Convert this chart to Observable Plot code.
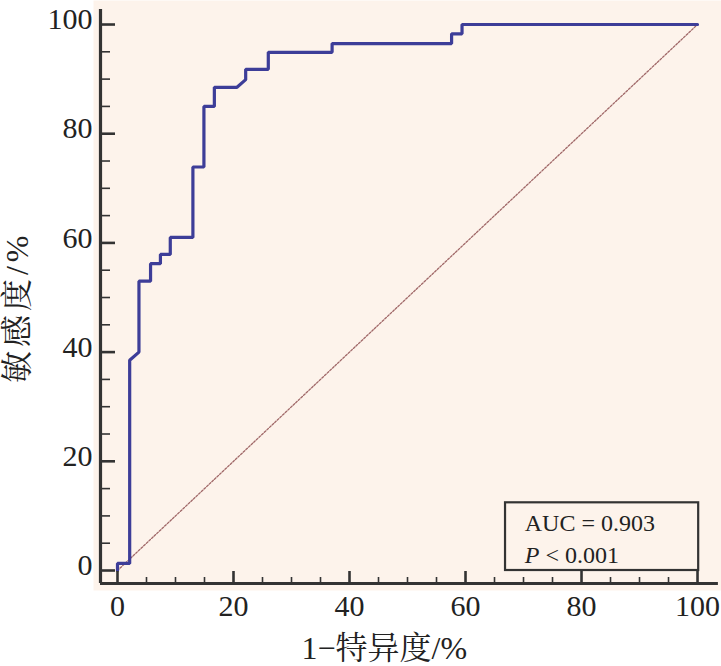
<!DOCTYPE html>
<html><head><meta charset="utf-8">
<script src="https://cdn.jsdelivr.net/npm/d3@7"></script>
<script src="https://cdn.jsdelivr.net/npm/@observablehq/plot@0.6"></script>
<style>
html,body{margin:0;padding:0;background:#fff;}
#chart svg{display:block;}
</style>
</head><body><div id="chart"></div>
<script>
// ROC curve vertices (1 - specificity %, sensitivity %)
const rocFpr = [0, 0, 2.1, 2.1, 3.7, 3.7, 5.7, 5.7, 7.4, 7.4, 9.1, 9.1, 13, 13, 14.9, 14.9, 16.7, 16.7, 20.6, 22.1, 22.1, 26, 26, 37, 37, 57.6, 57.6, 59.4, 59.4, 100];
const rocTpr = [0, 1.3, 1.3, 38.5, 40, 53, 53, 56.2, 56.2, 57.9, 57.9, 61, 61, 73.9, 73.9, 85, 85, 88.5, 88.5, 89.9, 91.8, 91.8, 94.9, 94.9, 96.5, 96.5, 98.3, 98.3, 100, 100];
const diagonal = [0, 100];
const majorTicks = [0, 20, 40, 60, 80, 100];
const minorTicks = [5, 10, 15, 25, 30, 35, 45, 50, 55, 65, 70, 75, 85, 90, 95];
const xTitle = "1−特异度/%";
const yTitle = "敏感度/%";
const statLines = ["AUC = 0.903", "P < 0.001"];

const roc = rocFpr.map((x, i) => ({x, y: rocTpr[i]}));
const diag = diagonal.map(v => ({x: v, y: v}));

const xDom = [-2.93, 103.1];
const yDom = [-2.38, 102.75];
const W = 721, H = 666, mL = 100, mR = 6, mT = 9, mB = 83;
const frameW = W - mL - mR, frameH = H - mT - mB;
const serif = "'Liberation Serif', 'Times New Roman', 'Noto Serif CJK SC', 'Noto Sans CJK SC', serif";
const axisColor = "#333";

const chart = Plot.plot({
  width: W,
  height: H,
  marginLeft: mL,
  marginRight: mR,
  marginTop: mT,
  marginBottom: mB,
  style: {fontFamily: serif, background: "#fff", color: "#222"},
  x: {domain: xDom, axis: null},
  y: {domain: yDom, axis: null},
  marks: [
    Plot.frame({fill: "#fdf3eb", stroke: "none", insetLeft: -7, insetTop: -9, insetBottom: -7, insetRight: -6}),
    // diagonal reference
    Plot.line(diag, {x: "x", y: "y", stroke: "#a06868", strokeWidth: 1.3, strokeDasharray: "2,1.6"}),
    // ROC curve
    Plot.line(roc, {x: "x", y: "y", stroke: "#3d3d98", strokeWidth: 3.2, strokeLinejoin: "miter"}),
    // axis lines
    Plot.ruleX([xDom[0]], {y1: yDom[0], y2: yDom[1], stroke: axisColor, strokeWidth: 3.2}),
    Plot.ruleY([yDom[0]], {x1: xDom[0], x2: xDom[1] + 0.5, stroke: axisColor, strokeWidth: 3.2}),
    // y ticks (inward)
    Plot.tickY(majorTicks, {y: d => d, insetRight: frameW - 15, stroke: axisColor, strokeWidth: 2.6}),
    Plot.tickY(minorTicks, {y: d => d, insetRight: frameW - 10, stroke: axisColor, strokeWidth: 1.6}),
    // x ticks (inward)
    Plot.tickX(majorTicks, {x: d => d, insetTop: frameH - 12, stroke: axisColor, strokeWidth: 2.6}),
    Plot.tickX(minorTicks, {x: d => d, insetTop: frameH - 6, stroke: axisColor, strokeWidth: 1.6}),
    // tick labels
    Plot.text(majorTicks, {y: d => d, text: d => String(d), frameAnchor: "left", dx: -8, dy: -5, textAnchor: "end", fontSize: 30, fill: "#222"}),
    Plot.text(majorTicks, {x: d => d, text: d => String(d), frameAnchor: "bottom", dy: 32, fontSize: 30, fill: "#222"}),
    // axis titles
    Plot.text([xTitle], {text: d => d, frameAnchor: "bottom", x: () => 46, dy: 75, textAnchor: "middle", fontSize: 32, fill: "#222"}),
    Plot.text([yTitle], {text: d => d, frameAnchor: "left", y: () => 48.2, dx: -83, rotate: -90, textAnchor: "middle", fontSize: 32, fill: "#222", className: "ytitle"}),
    // stats box
    Plot.rect([0], {x1: 66.9, x2: 100.2, y1: 0, y2: 12.4, fill: "none", stroke: axisColor, strokeWidth: 2.2}),
  ]
});

const svg = d3.select(chart);
svg.selectAll(".ytitle text").attr("letter-spacing", "4px");

// stat text (with italic P) inside the plot
const xs = chart.scale("x"), ys = chart.scale("y");
const tx = xs.apply(70.3);
const t1 = svg.append("text").attr("x", tx).attr("y", ys.apply(7.1)).attr("text-anchor", "start").attr("font-size", 24).attr("fill", "#222").attr("font-family", serif).text(statLines[0]);
const t2 = svg.append("text").attr("x", tx).attr("y", ys.apply(1.3)).attr("text-anchor", "start").attr("font-size", 24).attr("fill", "#222").attr("font-family", serif);
t2.append("tspan").attr("font-style", "italic").text(statLines[1].slice(0, 1));
t2.append("tspan").text(statLines[1].slice(1));

document.getElementById("chart").appendChild(chart);
</script>
</body></html>
